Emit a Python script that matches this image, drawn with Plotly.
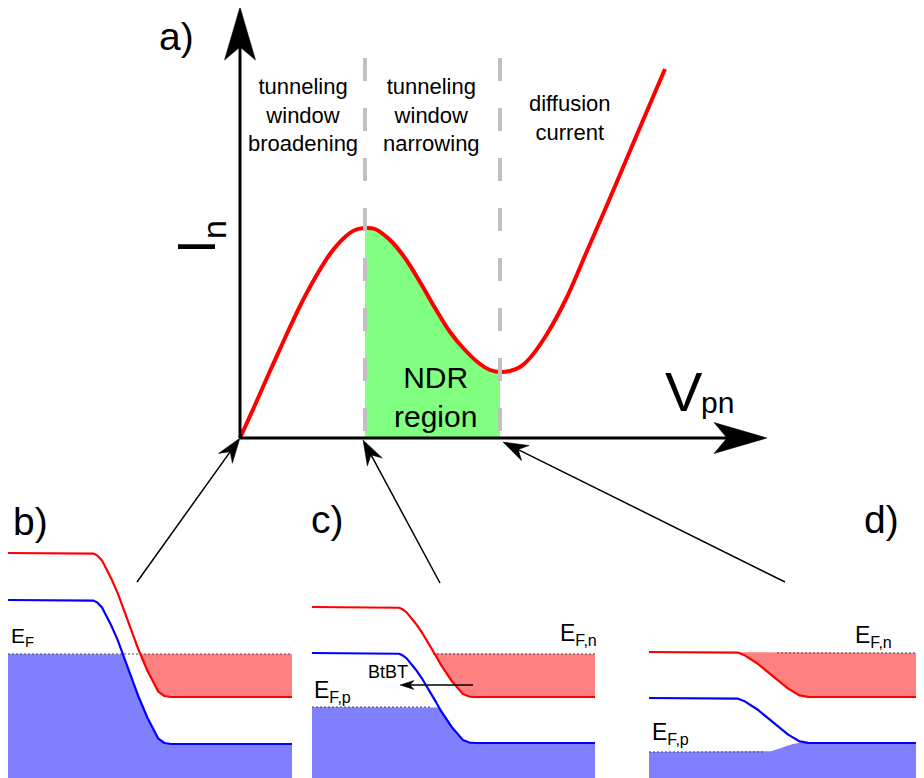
import numpy as np
import plotly.graph_objects as go

# The browser page adds an 8px body margin, so the figure is drawn 8px in
# from the top-left corner of the 924x778 window.
PAGE_W, PAGE_H, BODY_MARGIN = 924, 778, 8
FIG_W, FIG_H = PAGE_W - BODY_MARGIN, PAGE_H - BODY_MARGIN
FONT = "Liberation Sans, Arial, sans-serif"

# ---------------- panel a) I-V characteristic (schematic units) ----------------
V_CURVE = [0.00, 0.15, 0.30, 0.45, 0.60, 0.75, 0.90, 1.05, 1.15, 1.25, 1.35, 1.50,
           1.65, 1.80, 1.95, 2.10, 2.25, 2.40, 2.50, 2.60, 2.70, 2.80, 2.90, 3.07,
           3.27, 3.47, 3.67, 3.87, 4.07, 4.25]
I_CURVE = [0.00, 0.33, 0.67, 1.00, 1.32, 1.60, 1.84, 2.01, 2.08, 2.10, 2.09, 1.98,
           1.80, 1.56, 1.30, 1.06, 0.88, 0.74, 0.68, 0.66, 0.67, 0.71, 0.80, 1.04,
           1.41, 1.87, 2.33, 2.80, 3.27, 3.69]
V_PEAK, V_VALLEY = 1.25, 2.60
V_AXIS_END, I_AXIS_END = 5.27, 4.31
DIVIDER_TOP = 3.80
REGION_TEXT = ["tunneling<br>window<br>broadening",
               "tunneling<br>window<br>narrowing",
               "diffusion<br>current"]
REGION_V = [0.63, 1.91, 3.30]
REGION_I = [3.23, 3.23, 3.20]
NDR_TEXT = "NDR<br>region"
NDR_POS = (1.95, 0.415)

# ---------------- panels b) c) d) band diagrams ----------------
PANEL_WIDTH = [2.84, 2.83, 2.75]
STEP_POS = [0.83, 0.88, 0.93, 0.97, 1.02, 1.07, 1.12, 1.17, 1.22, 1.26, 1.31,
            1.36, 1.41, 1.46, 1.50, 1.55, 1.60]
STEP_FRAC = [0.00, 0.01, 0.04, 0.09, 0.16, 0.23, 0.32, 0.41, 0.50, 0.59, 0.68,
             0.77, 0.84, 0.91, 0.96, 0.99, 1.00]
EC_LEFT = [2.25, 1.71, 1.26]
EC_RIGHT = [0.81, 0.81, 0.81]
EV_LEFT = [1.78, 1.25, 0.80]
EV_RIGHT = [0.34, 0.35, 0.35]
EFN = [1.24, 1.24, 1.25]
EFP_LEFT = [1.24, 0.71, 0.26]
EFP_RIGHT = [1.24, 0.71, 0.35]
EFP_RAMP = [(1.16, 1.51), (1.16, 1.51), (1.16, 1.51)]
EFN_DOT = [(0.0, 2.84), (1.21, 2.83), (1.28, 2.75)]
EFP_DOT = [None, (0.0, 1.20), (0.0, 1.16)]
EFN_LABEL = ["E<sub>F</sub>", "E<sub>F,n</sub>", "E<sub>F,n</sub>"]
EFN_LABEL_POS = [(0.01, 1.41), (2.46, 1.44), (2.04, 1.42)]
EFP_LABEL = [None, "E<sub>F,p</sub>", "E<sub>F,p</sub>"]
EFP_LABEL_POS = [None, (0.0, 0.87), (0.01, 0.45)]
LABEL_SIZE = [21, 23, 23]
BTBT_TAIL, BTBT_TIP, BTBT_TEXT_POS = (1.61, 0.93), (0.88, 0.93), (0.76, 1.06)

PANEL_LETTERS = ["a)", "b)", "c)", "d)"]
PANEL_LETTER_PX = [(176.5, 36.5), (30.5, 521.5), (327.5, 519.5), (881.5, 519.5)]

# pointer arrows from band diagrams to the I-V plot (panel-a units)
POINTER_TAILS = [(-1.03, -1.44), (2.00, -1.45), (5.45, -1.44)]
POINTER_TIPS = [(0.0, 0.0), (V_PEAK - 0.02, -0.02), (V_VALLEY + 0.03, -0.04)]

RED, BLUE = "#ff0000", "#0000ff"
RED_FILL, BLUE_FILL, GREEN_FILL = "#ff8080", "#8080ff", "#80ff80"

# page-pixel positions of the layout frame
ORIGIN_PX = (240, 438)          # I-V origin on the page
BAND_TOP_PX = 540               # top of the band-diagram strip
PANEL_X_PX = [(8, 292), (312, 595), (649, 924)]


def fx(xp):
    return (xp - BODY_MARGIN) / FIG_W


def fy(yp):
    return 1 - (yp - BODY_MARGIN) / FIG_H


def head_poly(tip, tail, L, W, N):
    tip = np.array(tip, float)
    tail = np.array(tail, float)
    u = (tip - tail) / np.linalg.norm(tip - tail)
    p = np.array([-u[1], u[0]])
    pts = [tip, tip - L * u + W * p, tip - (L - N) * u, tip - L * u - W * p, tip]
    return [q[0] for q in pts], [q[1] for q in pts], tip - (L - N) * u


fig = go.Figure()


def add_arrow(tail, tip, L, W, N, lw, xa="x", ya="y"):
    hx, hy, notch = head_poly(tip, tail, L, W, N)
    fig.add_trace(go.Scatter(x=[tail[0], notch[0]], y=[tail[1], notch[1]], mode="lines",
                             line=dict(color="black", width=lw), xaxis=xa, yaxis=ya,
                             hoverinfo="skip"))
    fig.add_trace(go.Scatter(x=hx, y=hy, mode="lines", fill="toself", fillcolor="black",
                             line=dict(color="black", width=0.5), xaxis=xa, yaxis=ya,
                             hoverinfo="skip"))


# ---- panel a ----
v = np.array(V_CURVE)
i = np.array(I_CURVE)
mask = (v >= V_PEAK) & (v <= V_VALLEY)
fig.add_trace(go.Scatter(x=v[mask], y=i[mask], mode="lines", fill="tozeroy",
                         fillcolor=GREEN_FILL, line=dict(width=0, shape="spline"),
                         hoverinfo="skip"))
fig.add_trace(go.Scatter(x=v, y=i, mode="lines",
                         line=dict(color=RED, width=4, shape="spline", smoothing=0.8),
                         hoverinfo="skip"))
for vd in (V_PEAK, V_VALLEY):
    fig.add_trace(go.Scatter(x=[vd, vd], y=[DIVIDER_TOP, 0], mode="lines",
                             line=dict(color="#c0c0c0", width=4, dash="23px,27px"),
                             hoverinfo="skip"))
add_arrow((0, 0), (0, I_AXIS_END), 0.53, 0.155, 0.13, 3)
add_arrow((0, 0), (V_AXIS_END, 0), 0.53, 0.155, 0.13, 3)
for tail, tip in zip(POINTER_TAILS, POINTER_TIPS):
    add_arrow(tail, tip, 0.25, 0.085, 0.08, 1.5)

# ---- band panels ----
for k in range(3):
    xa = "x%d" % (k + 2)
    W = PANEL_WIDTH[k]
    xs = np.linspace(0, W, 1500)
    frac = np.interp(xs, STEP_POS, STEP_FRAC)
    ec = EC_LEFT[k] + (EC_RIGHT[k] - EC_LEFT[k]) * frac
    ev = EV_LEFT[k] + (EV_RIGHT[k] - EV_LEFT[k]) * frac
    r0, r1 = EFP_RAMP[k]
    ramp_pos = r0 + (r1 - r0) * (np.array(STEP_POS) - STEP_POS[0]) / (STEP_POS[-1] - STEP_POS[0])
    efp = EFP_LEFT[k] + (EFP_RIGHT[k] - EFP_LEFT[k]) * np.interp(xs, ramp_pos, STEP_FRAC)
    # occupied valence states
    fig.add_trace(go.Scatter(x=xs, y=np.minimum(ev, efp), mode="lines", fill="tozeroy",
                             fillcolor=BLUE_FILL, line=dict(width=0), xaxis=xa, yaxis="y2",
                             hoverinfo="skip"))
    # occupied conduction states
    upper = np.maximum(ec, EFN[k])
    fig.add_trace(go.Scatter(x=np.concatenate([xs, xs[::-1]]),
                             y=np.concatenate([ec, upper[::-1]]), mode="lines",
                             fill="toself", fillcolor=RED_FILL, line=dict(width=0),
                             xaxis=xa, yaxis="y2", hoverinfo="skip"))
    # Fermi levels
    a, b = EFN_DOT[k]
    fig.add_trace(go.Scatter(x=[a, b], y=[EFN[k], EFN[k]], mode="lines",
                             line=dict(color="#444", width=1, dash="2px,2px"),
                             xaxis=xa, yaxis="y2", hoverinfo="skip"))
    if EFP_DOT[k] is not None:
        a, b = EFP_DOT[k]
        fig.add_trace(go.Scatter(x=[a, b], y=[EFP_LEFT[k], EFP_LEFT[k]], mode="lines",
                                 line=dict(color="#444", width=1, dash="2px,2px"),
                                 xaxis=xa, yaxis="y2", hoverinfo="skip"))
    # band edges
    fig.add_trace(go.Scatter(x=xs, y=ec, mode="lines", line=dict(color=RED, width=2.2),
                             xaxis=xa, yaxis="y2", hoverinfo="skip"))
    fig.add_trace(go.Scatter(x=xs, y=ev, mode="lines", line=dict(color=BLUE, width=2.2),
                             xaxis=xa, yaxis="y2", hoverinfo="skip"))

add_arrow(BTBT_TAIL, BTBT_TIP, 0.14, 0.045, 0.04, 1.5, xa="x3", ya="y2")

# ---- annotations ----
ann = []
for txt, vx, iy in zip(REGION_TEXT, REGION_V, REGION_I):
    ann.append(dict(x=vx, y=iy, xref="x", yref="y", text=txt, showarrow=False,
                    xanchor="center", yanchor="middle",
                    font=dict(size=22, color="black", family=FONT)))
ann.append(dict(x=NDR_POS[0], y=NDR_POS[1], xref="x", yref="y", text=NDR_TEXT,
                showarrow=False, xanchor="center", yanchor="middle",
                font=dict(size=30, color="black", family=FONT)))

for letter, (xp, yp) in zip(PANEL_LETTERS, PANEL_LETTER_PX):
    ann.append(dict(x=fx(xp), y=fy(yp), xref="paper", yref="paper", text=letter,
                    showarrow=False, xanchor="center", yanchor="middle",
                    font=dict(size=39, color="black", family=FONT)))

# axis labels
for txt, (xp, yp), size, ang, xanc in [("V", (684, 392), 56, 0, "center"),
                                       ("pn", (699, 402.5), 30, 0, "left"),
                                       ("I", (196.5, 246.5), 53, -90, "center"),
                                       ("n", (214, 230), 34, -90, "center")]:
    ann.append(dict(x=fx(xp), y=fy(yp), xref="paper", yref="paper", text=txt,
                    showarrow=False, textangle=ang, xanchor=xanc, yanchor="middle",
                    font=dict(size=size, color="black", family=FONT)))

for k in range(3):
    xa = "x%d" % (k + 2)
    lx, ly = EFN_LABEL_POS[k]
    ann.append(dict(x=lx, y=ly, xref=xa, yref="y2", text=EFN_LABEL[k], showarrow=False,
                    xanchor="left", yanchor="middle",
                    font=dict(size=LABEL_SIZE[k], color="black", family=FONT)))
    if EFP_LABEL[k] is not None:
        lx, ly = EFP_LABEL_POS[k]
        ann.append(dict(x=lx, y=ly, xref=xa, yref="y2", text=EFP_LABEL[k], showarrow=False,
                        xanchor="left", yanchor="middle",
                        font=dict(size=LABEL_SIZE[k], color="black", family=FONT)))
ann.append(dict(x=BTBT_TEXT_POS[0], y=BTBT_TEXT_POS[1], xref="x3", yref="y2", text="BtBT",
                showarrow=False, xanchor="center", yanchor="middle",
                font=dict(size=18, color="black", family=FONT)))

# axis frames: panel a spans the full figure at 100 px per unit
x0_units = (ORIGIN_PX[0] - BODY_MARGIN) / 100
y0_units = (FIG_H - (ORIGIN_PX[1] - BODY_MARGIN)) / 100
band_h = (PAGE_H - BAND_TOP_PX) / 100

fig.update_layout(
    width=FIG_W, height=FIG_H, margin=dict(l=0, r=0, t=0, b=0, pad=0),
    paper_bgcolor="white", plot_bgcolor="rgba(0,0,0,0)", showlegend=False,
    annotations=ann,
    xaxis=dict(domain=[0, 1], range=[-x0_units, FIG_W / 100 - x0_units],
               visible=False, fixedrange=True),
    yaxis=dict(domain=[0, 1], range=[-y0_units, FIG_H / 100 - y0_units],
               visible=False, fixedrange=True),
    xaxis2=dict(domain=[fx(PANEL_X_PX[0][0]), fx(PANEL_X_PX[0][1])], range=[0, PANEL_WIDTH[0]],
                anchor="y2", visible=False, fixedrange=True),
    xaxis3=dict(domain=[fx(PANEL_X_PX[1][0]), fx(PANEL_X_PX[1][1])], range=[0, PANEL_WIDTH[1]],
                anchor="y2", visible=False, fixedrange=True),
    xaxis4=dict(domain=[fx(PANEL_X_PX[2][0]), min(1.0, fx(PANEL_X_PX[2][1]))],
                range=[0, PANEL_WIDTH[2]], anchor="y2", visible=False, fixedrange=True),
    yaxis2=dict(domain=[0, band_h * 100 / FIG_H], range=[0, band_h], anchor="x2",
                visible=False, fixedrange=True),
)

fig.write_html("out.html", config={"displayModeBar": False})
